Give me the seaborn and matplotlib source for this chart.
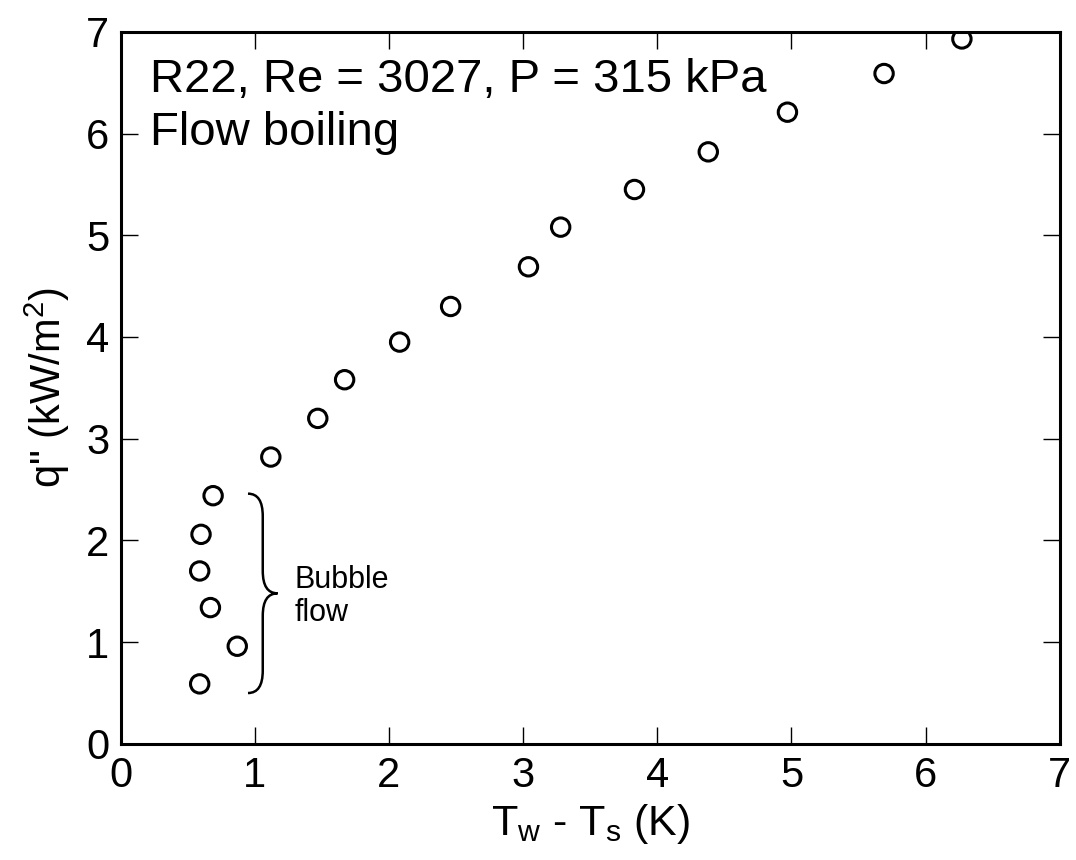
import matplotlib
matplotlib.use("Agg")
import matplotlib.pyplot as plt
from matplotlib.path import Path
from matplotlib.patches import PathPatch
import seaborn as sns
import pandas as pd

# Data
delta_T = [0.59, 0.87, 0.67, 0.59, 0.60, 0.69, 1.12, 1.47, 1.67, 2.08, 2.46,
           3.04, 3.28, 3.83, 4.38, 4.97, 5.69, 6.27]
q_flux = [0.59, 0.96, 1.34, 1.70, 2.06, 2.44, 2.82, 3.20, 3.58, 3.95, 4.30,
          4.69, 5.08, 5.45, 5.82, 6.21, 6.59, 6.93]
x_ticks = [0, 1, 2, 3, 4, 5, 6, 7]
y_ticks = [0, 1, 2, 3, 4, 5, 6, 7]
title_lines = ["R22, Re = 3027, P = 315 kPa", "Flow boiling"]
bubble_range = [0.50, 2.46]   # q" span covered by the bracket
bubble_label = "Bubble\nflow"

df = pd.DataFrame({"dT": delta_T, "q": q_flux})

sns.set_theme(style="ticks")
plt.rcParams["font.family"] = ["Liberation Sans", "DejaVu Sans"]
plt.rcParams["mathtext.fontset"] = "custom"
plt.rcParams["mathtext.rm"] = "Liberation Sans"
plt.rcParams["mathtext.it"] = "Liberation Sans:italic"
plt.rcParams["text.color"] = "black"
plt.rcParams["axes.labelcolor"] = "black"
plt.rcParams["xtick.color"] = "black"
plt.rcParams["ytick.color"] = "black"

fig = plt.figure(figsize=(10.76, 8.6), dpi=100)
ax = fig.add_axes([0.112, 0.135, 0.873, 0.828])

sns.scatterplot(data=df, x="dT", y="q", ax=ax, marker="o", s=175,
                facecolor="none", edgecolor="black", linewidth=2.2, zorder=3)

ax.set_xlim(0, 7)
ax.set_ylim(0, 7)
ax.set_xticks(x_ticks)
ax.set_yticks(y_ticks)
ax.tick_params(direction="in", length=12, width=1.0, labelsize=30,
               top=True, right=True, colors="black")
ax.tick_params(axis="x", pad=9)
ax.tick_params(axis="y", pad=8)
for s in ax.spines.values():
    s.set_linewidth(2.2)
    s.set_color("black")

ax.set_xlabel(r"T$_\mathrm{w}$ - T$_\mathrm{s}$ (K)", fontsize=31, labelpad=4)
ax.set_ylabel(r'q" (kW/m$^2$)', fontsize=30, labelpad=10)

ax.text(0.22, 6.74, "\n".join(title_lines), fontsize=34, va="top", ha="left",
        linespacing=1.25)

# Curly bracket annotation
lo, hi = bubble_range
mid = (lo + hi) / 2
xe, xl, xt = 0.95, 1.06, 1.17
r = 0.22
verts = [(xe, hi), (xl, hi), (xl, hi - r),
         (xl, mid + r),
         (xl, mid), (xt, mid),
         (xl, mid), (xl, mid - r),
         (xl, lo + r),
         (xl, lo), (xe, lo)]
codes = [Path.MOVETO, Path.CURVE3, Path.CURVE3,
         Path.LINETO,
         Path.CURVE3, Path.CURVE3,
         Path.CURVE3, Path.CURVE3,
         Path.LINETO,
         Path.CURVE3, Path.CURVE3]
ax.add_patch(PathPatch(Path(verts, codes), fc="none", ec="black", lw=1.8))
ax.text(1.30, mid - 0.03, bubble_label, fontsize=22, va="center", ha="left",
        linespacing=1.1)

fig.savefig("out.png", dpi=100)
